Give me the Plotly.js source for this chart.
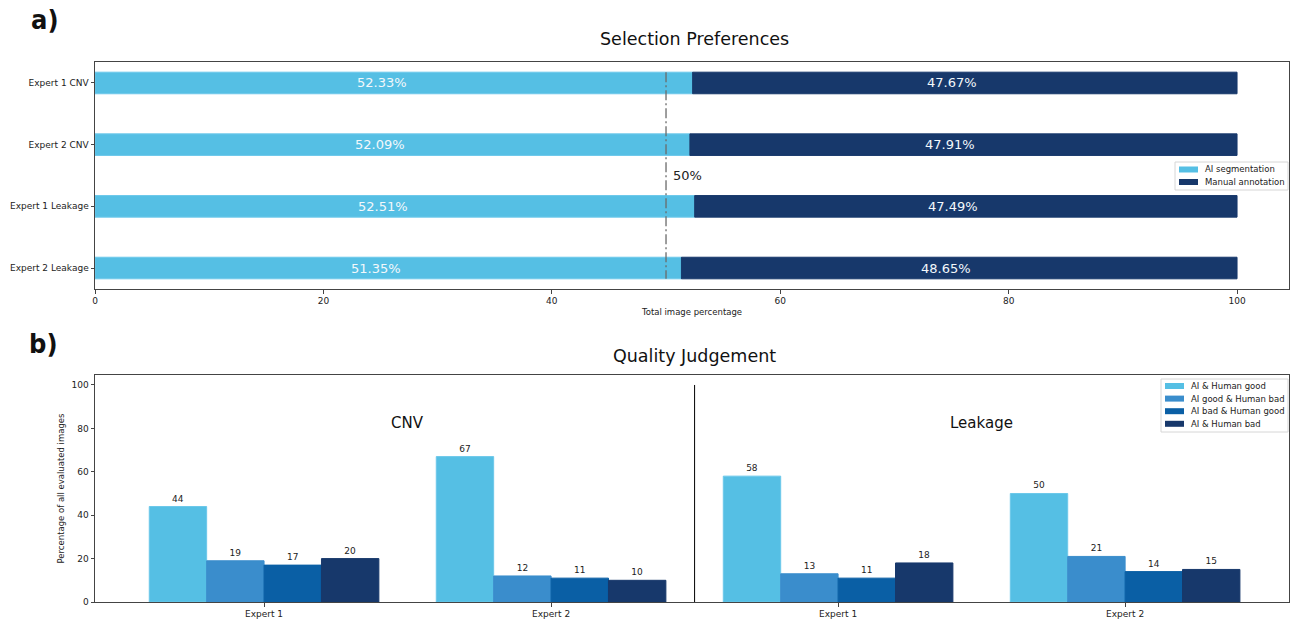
<!DOCTYPE html>
<html>
<head>
<meta charset="utf-8">
<script src="https://cdn.plot.ly/plotly-3.0.1.min.js"></script>
<style>html,body{margin:0;padding:0;background:#fff;}#chart{width:1290px;height:619px;}</style>
</head>
<body>
<div id="chart"></div>
<script>
// ---- Data: Selection Preferences ----
const selCategories = ["Expert 1 CNV", "Expert 2 CNV", "Expert 1 Leakage", "Expert 2 Leakage"];
const selSeriesNames = ["AI segmentation", "Manual annotation"];
const aiSegmentation = [52.33, 52.09, 52.51, 51.35];
const manualAnnotation = [47.67, 47.91, 47.49, 48.65];

// ---- Data: Quality Judgement ----
const qualGroups = ["Expert 1", "Expert 2", "Expert 1", "Expert 2"];
const qualSeriesNames = ["AI & Human good", "AI good & Human bad", "AI bad & Human good", "AI & Human bad"];
const aiHumanGood = [44, 67, 58, 50];
const aiGoodHumanBad = [19, 12, 13, 21];
const aiBadHumanGood = [17, 11, 11, 14];
const aiHumanBad = [20, 10, 18, 15];
const sectionLabels = ["CNV", "Leakage"];

const FONT = "DejaVu Sans, Verdana, sans-serif";
const C_LIGHT = "#55BFE4", C_MED = "#3A8DCC", C_DARK3 = "#0A5FA5", C_NAVY = "#17386B";
const W = 1290, H = 619;
const px = x => x / W, py = y => 1 - y / H;

const selPos = selCategories.map((_, i) => i);
const qualPos = qualGroups.map((_, i) => i);

const traces = [
  {
    type: "bar", orientation: "h", name: selSeriesNames[0],
    y: selPos, x: aiSegmentation, width: 0.35,
    marker: {color: C_LIGHT, line: {color: "#6cc8ea", width: 1}},
    xaxis: "x", yaxis: "y", showlegend: false, hoverinfo: "skip"
  },
  {
    type: "bar", orientation: "h", name: selSeriesNames[1],
    y: selPos, x: manualAnnotation, base: aiSegmentation, width: 0.35,
    marker: {color: C_NAVY, line: {color: C_NAVY, width: 1}},
    xaxis: "x", yaxis: "y", showlegend: false, hoverinfo: "skip"
  }
];

const qualSeries = [aiHumanGood, aiGoodHumanBad, aiBadHumanGood, aiHumanBad];
const qualColors = [C_LIGHT, C_MED, C_DARK3, C_NAVY];
const qualOffsets = [-0.4, -0.2, 0, 0.2];
qualSeries.forEach((vals, k) => {
  traces.push({
    type: "bar", name: qualSeriesNames[k], x: qualPos, y: vals,
    width: 0.2, offset: qualOffsets[k],
    marker: {color: qualColors[k], line: {color: k === 0 ? "#6cc8ea" : qualColors[k], width: 1}},
    text: vals.map(String), textposition: "outside", cliponaxis: false,
    textfont: {color: "#222", size: 9, family: FONT},
    xaxis: "x2", yaxis: "y2", showlegend: false, hoverinfo: "skip"
  });
});

// 50% reference line (dash-dot)
traces.push({
  type: "scatter", mode: "lines", x: [50, 50], y: [-0.175, 3.175],
  line: {color: "#6a6a6a", width: 1.3, dash: "10px,3px,2px,3px"},
  showlegend: false, hoverinfo: "skip", xaxis: "x", yaxis: "y"
});
// Section divider in quality chart
traces.push({
  type: "scatter", mode: "lines", x: [1.5, 1.5], y: [0, 100],
  line: {color: "#000", width: 1},
  showlegend: false, hoverinfo: "skip", xaxis: "x2", yaxis: "y2"
});

const axisCommon = {
  showline: true, mirror: true, linecolor: "#444", linewidth: 1,
  showgrid: false, zeroline: false, ticks: "outside", ticklen: 3.5, tickcolor: "#444",
  tickfont: {size: 9, color: "#222", family: FONT}
};

const annotations = [
  {text: "Selection Preferences", xref: "paper", yref: "paper", x: px(694), y: py(39),
   xanchor: "center", yanchor: "middle", showarrow: false, font: {size: 17.5, family: FONT, color: "#111"}},
  {text: "Quality Judgement", xref: "paper", yref: "paper", x: px(694), y: py(356),
   xanchor: "center", yanchor: "middle", showarrow: false, font: {size: 17.5, family: FONT, color: "#111"}},
  {text: "<b>a)</b>", xref: "paper", yref: "paper", x: px(29), y: py(20),
   xanchor: "left", yanchor: "middle", showarrow: false, font: {size: 27, family: "DejaVu Sans Condensed, DejaVu Sans, sans-serif", color: "#111"}},
  {text: "<b>b)</b>", xref: "paper", yref: "paper", x: px(27), y: py(343),
   xanchor: "left", yanchor: "middle", showarrow: false, font: {size: 27, family: "DejaVu Sans Condensed, DejaVu Sans, sans-serif", color: "#111"}},
  {text: "50%", xref: "x", yref: "y", x: 50.4, y: 1.5, xanchor: "left", yanchor: "middle",
   showarrow: false, font: {size: 13, family: FONT, color: "#222"}},
  {text: sectionLabels[0], xref: "x2", yref: "y2", x: 0.5, y: 82.5, xanchor: "center", yanchor: "middle",
   showarrow: false, font: {size: 15, family: FONT, color: "#111"}},
  {text: sectionLabels[1], xref: "x2", yref: "y2", x: 2.5, y: 82.5, xanchor: "center", yanchor: "middle",
   showarrow: false, font: {size: 15, family: FONT, color: "#111"}}
];

// In-bar percentage labels (centered in each segment)
selPos.forEach(i => {
  annotations.push({text: aiSegmentation[i].toFixed(2) + "%", xref: "x", yref: "y",
    x: aiSegmentation[i] / 2, y: i, xshift: -12, xanchor: "center", yanchor: "middle", showarrow: false,
    font: {size: 13, family: FONT, color: "#f3f8fb"}});
  annotations.push({text: manualAnnotation[i].toFixed(2) + "%", xref: "x", yref: "y",
    x: aiSegmentation[i] + manualAnnotation[i] / 2, y: i, xshift: -13, xanchor: "center", yanchor: "middle", showarrow: false,
    font: {size: 13, family: FONT, color: "#f3f8fb"}});
});

// Legends (matplotlib-style compact boxes)
const shapes = [];
function addLegend(names, colors, box, firstY, step, swX, textX) {
  shapes.push({type: "rect", xref: "paper", yref: "paper", x0: px(box[0]), x1: px(box[1]), y0: py(box[3]), y1: py(box[2]),
    line: {color: "#d6d6d6", width: 1}, fillcolor: "rgba(255,255,255,0.85)", layer: "above"});
  names.forEach((n, k) => {
    const cy = firstY + k * step;
    shapes.push({type: "rect", xref: "paper", yref: "paper", x0: px(swX), x1: px(swX + 19), y0: py(cy + 3), y1: py(cy - 3),
      line: {width: 0}, fillcolor: colors[k], layer: "above"});
    annotations.push({text: n, xref: "paper", yref: "paper", x: px(textX), y: py(cy), xanchor: "left", yanchor: "middle",
      showarrow: false, font: {size: 8.5, family: FONT, color: "#222"}});
  });
}
addLegend(selSeriesNames, [C_LIGHT, C_NAVY], [1175, 1288, 162, 190], 169.5, 12.5, 1179, 1203);
addLegend(qualSeriesNames, qualColors, [1161, 1288, 379, 432], 386, 12.6, 1165, 1189);

const layout = {
  width: W, height: H,
  margin: {l: 0, r: 0, t: 0, b: 0},
  paper_bgcolor: "#fff", plot_bgcolor: "#fff",
  font: {family: FONT, color: "#222"},
  barmode: "overlay",
  showlegend: false,
  xaxis: Object.assign({}, axisCommon, {
    domain: [px(95), px(1289)], range: [0, 104.55], anchor: "y",
    tickvals: [0, 20, 40, 60, 80, 100],
    title: {text: "Total image percentage", font: {size: 8.5, family: FONT, color: "#222"}, standoff: 3}
  }),
  yaxis: Object.assign({}, axisCommon, {
    domain: [py(289), py(62)], range: [3.34, -0.34], anchor: "x",
    tickvals: selPos, ticktext: selCategories
  }),
  xaxis2: Object.assign({}, axisCommon, {
    domain: [px(95), px(1289)], range: [-0.589, 3.571], anchor: "y2",
    tickvals: qualPos, ticktext: qualGroups
  }),
  yaxis2: Object.assign({}, axisCommon, {
    domain: [py(602), py(375)], range: [0, 104.6], anchor: "x2",
    tickvals: [0, 20, 40, 60, 80, 100],
    title: {text: "Percentage of all evaluated images", font: {size: 8.5, family: FONT, color: "#222"}, standoff: 5}
  }),
  annotations: annotations,
  shapes: shapes
};

Plotly.newPlot("chart", traces, layout, {staticPlot: true, displayModeBar: false});
</script>
</body>
</html>
